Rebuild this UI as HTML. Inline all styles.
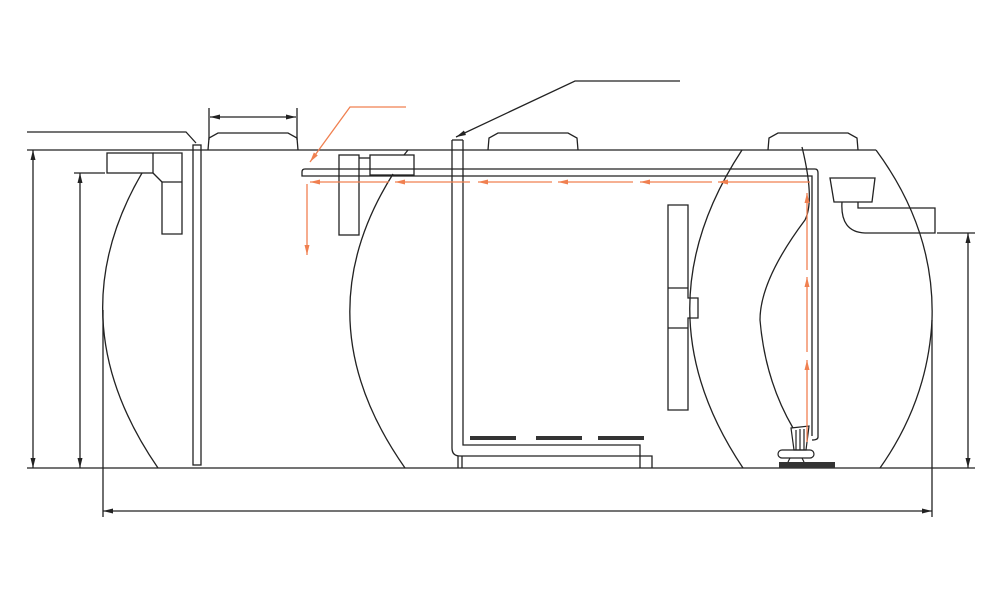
<!DOCTYPE html>
<html><head><style>body{margin:0;background:#fff}svg{display:block}</style></head><body>
<svg width="1000" height="600" viewBox="0 0 1000 600" xmlns="http://www.w3.org/2000/svg">
<defs>
<marker id="ab" markerWidth="10" markerHeight="6" refX="10" refY="3" orient="auto-start-reverse" markerUnits="userSpaceOnUse"><path d="M0,0.5 L10,3 L0,5.5z" fill="#222"/></marker>
<marker id="ao" markerWidth="10" markerHeight="6" refX="10" refY="3" orient="auto-start-reverse" markerUnits="userSpaceOnUse"><path d="M0,0.5 L10,3 L0,5.5z" fill="#f08050"/></marker>
</defs>
<g fill="none" stroke="#222" stroke-width="1.3">
<line x1="27" y1="150" x2="876" y2="150"/>
<path d="M876,150 Q935,230 932,320 Q928,400 880,468"/>
<line x1="27" y1="468" x2="975" y2="468"/>
<line x1="33" y1="150" x2="33" y2="468" marker-start="url(#ab)" marker-end="url(#ab)"/>
<line x1="74" y1="173" x2="105" y2="173"/>
<line x1="80" y1="173" x2="80" y2="468" marker-start="url(#ab)" marker-end="url(#ab)"/>
<line x1="103" y1="310" x2="103" y2="517"/>
<line x1="932" y1="320" x2="932" y2="517"/>
<line x1="103" y1="511" x2="932" y2="511" marker-start="url(#ab)" marker-end="url(#ab)"/>
<line x1="937" y1="233" x2="975" y2="233"/>
<line x1="968" y1="233" x2="968" y2="468" marker-start="url(#ab)" marker-end="url(#ab)"/>
<polyline points="27,132 186,132 196,143"/>
<rect x="193" y="145" width="8" height="320"/>
<rect x="107" y="153" width="46" height="20"/>
<polyline points="153,153 182,153 182,182 162,182 162,234 182,234 182,182"/>
<line x1="162" y1="182" x2="153" y2="173"/>
<path d="M142,173 Q56,320 158,468"/>
<path d="M208,150 L209,138 L218,133 L288,133 L297,138 L298,150"/>
<path d="M488,150 L489,138 L498,133 L568,133 L577,138 L578,150"/>
<path d="M768,150 L769,138 L778,133 L848,133 L857,138 L858,150"/>
<line x1="209" y1="108" x2="209" y2="140"/><line x1="297" y1="108" x2="297" y2="140"/>
<line x1="210" y1="117" x2="296" y2="117" marker-start="url(#ab)" marker-end="url(#ab)"/>
<rect x="339" y="155" width="20" height="80"/>
<rect x="370" y="155" width="44" height="20"/>
<line x1="359" y1="158" x2="370" y2="158"/>
<line x1="408" y1="150" x2="404" y2="155"/>
<path d="M305,169 L815,169 Q818,169 818,173 L818,437 Q818,440 812,440"/>
<path d="M305,169 Q302,169 302,172 L302,176 L310,176 L812,176 L812,436"/>
<path d="M393,174 Q301,320 405,468"/>
<path d="M452,140 L452,448 Q452,456 460,456 L652,456 L652,468"/>
<path d="M463,140 L452,140"/>
<path d="M463,140 L463,445 L640,445 L640,468"/>
<line x1="458" y1="456" x2="458" y2="468"/><line x1="462" y1="456" x2="462" y2="468"/>
<polyline points="680,81 575,81 456,137" marker-end="url(#ab)"/>
<path d="M668,205 L688,205 L688,298 L698,298 L698,318 L688,318 L688,410 L668,410 Z"/>
<line x1="668" y1="288" x2="688" y2="288"/><line x1="668" y1="328" x2="688" y2="328"/>
<path d="M742,150 Q637,310 743,468"/>
<path d="M802,147 Q815,200 805,220 Q760,280 760,320 Q765,380 793,428"/>
<path d="M830,178 L875,178 L872,202 L834,202 Z"/>
<path d="M842,202 Q840,232 865,233 L935,233 L935,208 L858,208 L858,202"/>
</g>
<g fill="#333">
<rect x="470" y="436" width="46" height="4"/><rect x="536" y="436" width="46" height="4"/><rect x="598" y="436" width="46" height="4"/>
<rect x="779" y="462" width="56" height="6"/>
</g>
<g fill="none" stroke="#222" stroke-width="1.2">
<path d="M791,428 L809,426 L806,450 L794,450 Z"/>
<line x1="796" y1="430" x2="796" y2="450"/><line x1="800" y1="429" x2="800" y2="450"/><line x1="804" y1="429" x2="804" y2="450"/>
<rect x="778" y="450" width="36" height="8" rx="4"/>
<line x1="790" y1="458" x2="788" y2="462"/><line x1="802" y1="458" x2="804" y2="462"/>
</g>
<g stroke="#f08050" stroke-width="1.3" fill="none">
<polyline points="406,107 350,107 310,162" marker-end="url(#ao)"/>
<line x1="810" y1="182" x2="718" y2="182" marker-end="url(#ao)"/>
<line x1="712" y1="182" x2="640" y2="182" marker-end="url(#ao)"/>
<line x1="633" y1="182" x2="558" y2="182" marker-end="url(#ao)"/>
<line x1="552" y1="182" x2="478" y2="182" marker-end="url(#ao)"/>
<line x1="470" y1="182" x2="395" y2="182" marker-end="url(#ao)"/>
<line x1="389" y1="182" x2="310" y2="182" marker-end="url(#ao)"/>
<line x1="307" y1="184" x2="307" y2="255" marker-end="url(#ao)"/>
<line x1="807" y1="442" x2="807" y2="360" marker-end="url(#ao)"/>
<line x1="807" y1="352" x2="807" y2="277" marker-end="url(#ao)"/>
<line x1="807" y1="270" x2="807" y2="193" marker-end="url(#ao)"/>
</g>
</svg>
</body></html>
